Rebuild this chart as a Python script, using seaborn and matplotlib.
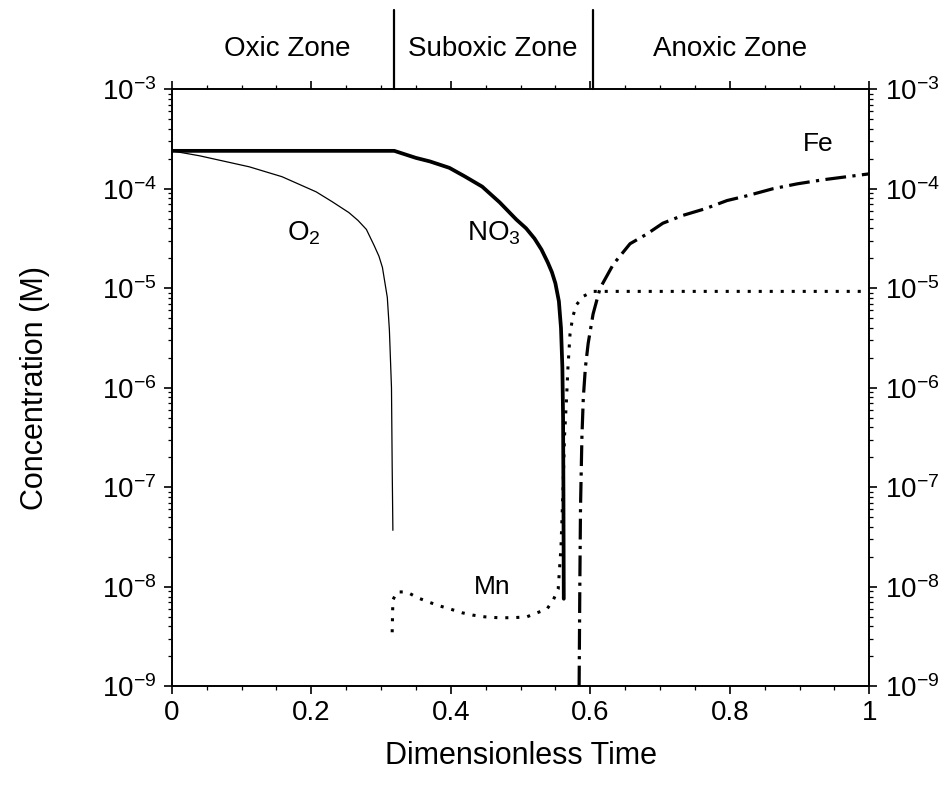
import numpy as np
import pandas as pd
import matplotlib
matplotlib.use("Agg")
import matplotlib.pyplot as plt
import matplotlib.ticker as mticker
import seaborn as sns

# ---------------- data ----------------
o2_t = [0.0, 0.04, 0.111, 0.158, 0.207, 0.23, 0.254, 0.267, 0.279, 0.29, 0.297, 0.302,
        0.309, 0.312, 0.315, 0.316, 0.317]
o2_c = [2.4e-4, 2.14e-4, 1.66e-4, 1.32e-4, 9.3e-5, 7.4e-5, 5.75e-5, 4.8e-5, 3.9e-5, 2.7e-5,
        2.1e-5, 1.62e-5, 8.1e-6, 3.8e-6, 1.0e-6, 1.6e-7, 3.7e-8]

no3_t = [0.0, 0.1, 0.2, 0.319, 0.35, 0.37, 0.398, 0.42, 0.445, 0.47, 0.494, 0.508, 0.520,
         0.530, 0.539, 0.545, 0.550, 0.555, 0.558, 0.560, 0.561, 0.5615, 0.562]
no3_c = [2.4e-4, 2.4e-4, 2.4e-4, 2.4e-4, 2.04e-4, 1.88e-4, 1.62e-4, 1.33e-4, 1.05e-4, 7.3e-5,
         4.9e-5, 4.0e-5, 3.16e-5, 2.45e-5, 1.82e-5, 1.45e-5, 1.12e-5, 7.4e-6, 4.0e-6, 1.6e-6,
         5.0e-7, 1.0e-7, 7.6e-9]

mn_t = [0.316, 0.317, 0.323, 0.337, 0.352, 0.367, 0.382, 0.399, 0.416, 0.432, 0.449, 0.468,
        0.489, 0.509, 0.524, 0.538, 0.547, 0.554, 0.558, 0.561, 0.563, 0.566, 0.568, 0.571,
        0.575, 0.580, 0.590, 0.604, 0.65, 1.0]
mn_c = [3.5e-9, 7.4e-9, 8.9e-9, 8.9e-9, 7.8e-9, 7.1e-9, 6.5e-9, 6.0e-9, 5.5e-9, 5.2e-9,
        5.0e-9, 4.9e-9, 4.9e-9, 5.0e-9, 5.5e-9, 6.0e-9, 7.4e-9, 9.5e-9, 2.5e-8, 1.0e-7,
        3.2e-7, 7.9e-7, 1.6e-6, 3.5e-6, 5.2e-6, 6.8e-6, 8.3e-6, 9.3e-6, 9.3e-6, 9.3e-6]

fe_t = [0.584, 0.585, 0.586, 0.588, 0.590, 0.593, 0.597, 0.604, 0.614, 0.633, 0.657, 0.681,
        0.704, 0.733, 0.765, 0.796, 0.825, 0.862, 0.897, 0.934, 0.968, 1.0]
fe_c = [1.0e-9, 1.0e-8, 6.3e-8, 3.2e-7, 7.9e-7, 1.6e-6, 2.8e-6, 5.5e-6, 1.0e-5, 1.74e-5,
        2.8e-5, 3.5e-5, 4.5e-5, 5.4e-5, 6.3e-5, 7.6e-5, 8.5e-5, 1.0e-4, 1.12e-4, 1.23e-4,
        1.32e-4, 1.41e-4]

zone_names = ["Oxic Zone", "Suboxic Zone", "Anoxic Zone"]
zone_centers = [0.165, 0.46, 0.80]
zone_bounds = [0.319, 0.604]

x_ticks = [0, 0.2, 0.4, 0.6, 0.8, 1]
x_tick_labels = ["0", "0.2", "0.4", "0.6", "0.8", "1"]
y_ticks = [1e-9, 1e-8, 1e-7, 1e-6, 1e-5, 1e-4, 1e-3]
y_tick_labels = [r"$\mathregular{10^{-9}}$", r"$\mathregular{10^{-8}}$", r"$\mathregular{10^{-7}}$",
                 r"$\mathregular{10^{-6}}$", r"$\mathregular{10^{-5}}$", r"$\mathregular{10^{-4}}$",
                 r"$\mathregular{10^{-3}}$"]

# ---------------- styling ----------------
sns.set_theme(style="ticks")
plt.rcParams["font.family"] = ["Liberation Sans", "DejaVu Sans"]
plt.rcParams["mathtext.fontset"] = "custom"
plt.rcParams["mathtext.rm"] = "Liberation Sans"
plt.rcParams["mathtext.default"] = "regular"
for k in ["text.color", "axes.labelcolor", "xtick.color", "ytick.color", "axes.edgecolor"]:
    plt.rcParams[k] = "black"

fig = plt.figure(figsize=(9.49, 7.89), dpi=100)
ax = fig.add_axes([0.181, 0.130, 0.735, 0.757])

def draw(t, c, **kw):
    df = pd.DataFrame({"t": t, "c": c})
    sns.lineplot(data=df, x="t", y="c", ax=ax, sort=False, estimator=None, color="black", **kw)

draw(o2_t, o2_c, linewidth=0.9)
draw(no3_t, no3_c, linewidth=2.7)
draw(mn_t, mn_c, linewidth=2.2, linestyle=(0, (1, 2.6)))
draw(fe_t, fe_c, linewidth=2.3, linestyle=(0, (6.5, 2.0, 1.0, 2.0)))

ax.set_yscale("log")
ax.set_xlim(0, 1)
ax.set_ylim(1e-9, 1e-3)

ax.set_xticks(x_ticks)
ax.set_xticklabels(x_tick_labels)
ax.xaxis.set_minor_locator(mticker.MultipleLocator(0.05))
ax.set_yticks(y_ticks)
ax.set_yticklabels(y_tick_labels)
ax.yaxis.set_minor_locator(mticker.LogLocator(base=10, subs=np.arange(2, 10), numticks=20))
ax.yaxis.set_minor_formatter(mticker.NullFormatter())

for s in ax.spines.values():
    s.set_visible(True)
    s.set_linewidth(1.4)
    s.set_color("black")

ax.tick_params(which="both", direction="out", top=True, right=True, labelright=True,
               color="black", labelsize=20, labelcolor="black")
ax.tick_params(which="major", length=6, width=1.2, pad=5)
ax.tick_params(which="minor", length=3, width=0.9)
ax.tick_params(axis="x", which="major", pad=4)

ax.set_xlabel("Dimensionless Time", fontsize=22, color="black")
ax.set_ylabel("Concentration (M)", fontsize=22, color="black")
ax.xaxis.set_label_coords(0.5, -0.092)
ax.yaxis.set_label_coords(-0.175, 0.5)

# zone dividers and labels above the axes
trans = ax.get_xaxis_transform()
for b in zone_bounds:
    ax.plot([b, b], [1.0, 1.132], transform=trans, color="black", linewidth=1.6, clip_on=False)
for name, cx in zip(zone_names, zone_centers):
    ax.text(cx, 1.068, name, transform=trans, ha="center", va="center", fontsize=20)

# curve labels
ax.text(0.19, 3.6e-5, r"$\mathregular{O_2}$", fontsize=20, ha="center", va="center")
ax.text(0.462, 3.6e-5, r"$\mathregular{NO_3}$", fontsize=20, ha="center", va="center")
ax.text(0.46, 1.0e-8, "Mn", fontsize=19, ha="center", va="center")
ax.text(0.927, 2.8e-4, "Fe", fontsize=19, ha="center", va="center")

ax.set_facecolor("white")
fig.patch.set_facecolor("white")
fig.savefig("out.png", dpi=100, facecolor="white")
